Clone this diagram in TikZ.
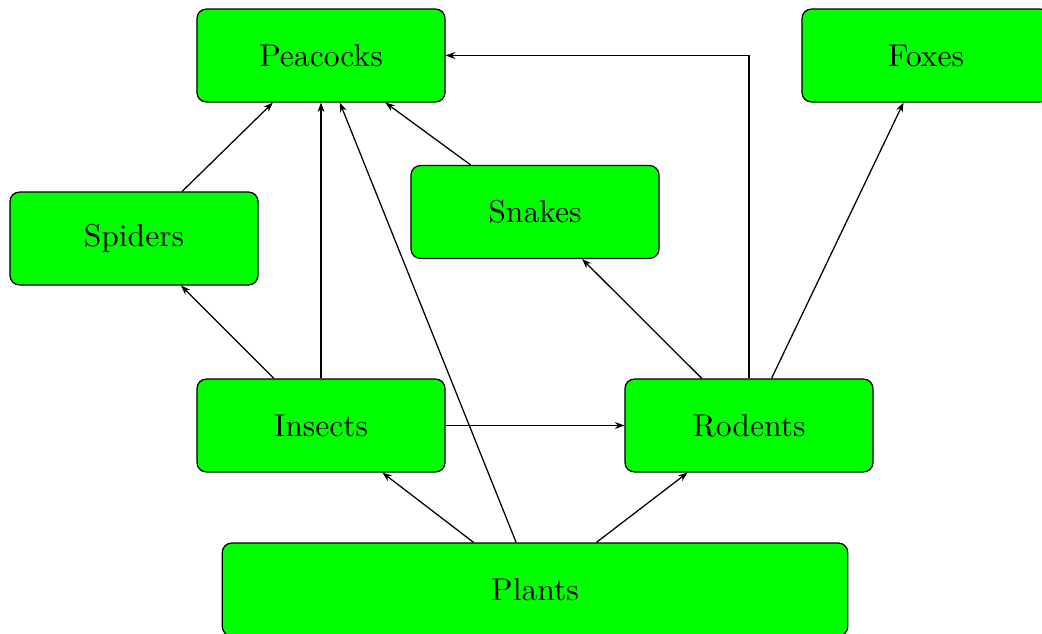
\documentclass[tikz,border=0pt]{standalone}
\usetikzlibrary{arrows.meta}
\begin{document}
\begin{tikzpicture}[x=0.3165pt, y=-0.3165pt,
  animal/.style={draw=black, fill={rgb,255:red,0;green,255;blue,0}, rounded corners=3pt,
    minimum width=78.5pt, minimum height=29.4pt, inner sep=0pt, font=\normalsize},
  feeds/.style={-{Stealth[length=3pt,width=2.2pt]}}]
  \useasboundingbox (0,0) rectangle (1042,634);
  \node[animal] (pea) at (321,55.5) {Peacocks};
  \node[animal] (fox) at (926,55.5) {Foxes};
  \node[animal] (spi) at (134,238.5) {Spiders};
  \node[animal] (sna) at (535,212) {Snakes};
  \node[animal] (ins) at (321,425.5) {Insects};
  \node[animal] (rod) at (749,425.5) {Rodents};
  \node[animal, minimum width=198pt] (pla) at (535,589.5) {Plants};
  \draw[feeds] (spi) -- (pea);
  \draw[feeds] (ins) -- (spi);
  \draw[feeds] (ins) -- (pea);
  \draw[feeds] (pla) -- (pea);
  \draw[feeds] (pla) -- (ins);
  \draw[feeds] (pla) -- (rod);
  \draw[feeds] (ins) -- (rod);
  \draw[feeds] (rod) -- (sna);
  \draw[feeds] (sna) -- (pea);
  \draw[feeds] (rod.north) |- (pea.east);
  \draw[feeds] (rod) -- (fox);
\end{tikzpicture}
\end{document}
